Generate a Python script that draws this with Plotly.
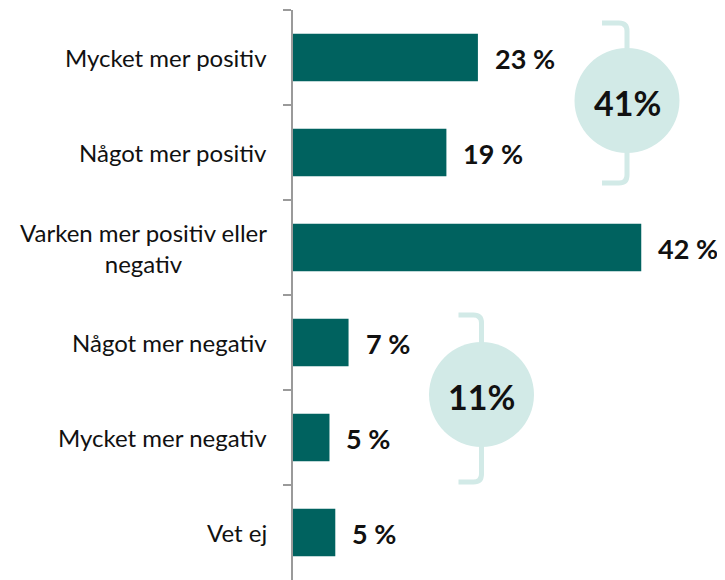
import plotly.graph_objects as go

categories = ["Mycket mer positiv", "Något mer positiv", "Varken mer positiv eller<br>negativ",
              "Något mer negativ", "Mycket mer negativ", "Vet ej"]
values = [22.3, 18.5, 42.0, 6.7, 4.4, 5.1]
value_labels = ["23 %", "19 %", "42 %", "7 %", "5 %", "5 %"]
group_labels = ["41%", "11%"]

W, H = 725, 580
OFF = 8  # page body margin
L, T = 293, 10
PW, PH = W - L, H - T
XMAX = 52.1

BAR = "#00625F"
LIGHT = "#D2EAE7"
FONT = "Lato"

fig = go.Figure(go.Bar(
    x=values, y=list(range(len(categories))), orientation="h",
    marker=dict(color=BAR, line=dict(width=0)), width=0.5,
    hoverinfo="skip"))

anns = []
for i, (c, v, t) in enumerate(zip(categories, values, value_labels)):
    anns.append(dict(x=0, xref="paper", y=i, yref="y", text=c, showarrow=False,
                     xanchor="right", yanchor="middle", xshift=-24, align="center",
                     font=dict(family=FONT, size=24, color="#111")))
    anns.append(dict(x=v, xref="x", y=i, yref="y", text=t, showarrow=False,
                     xanchor="left", yanchor="middle", xshift=15, yshift=-1,
                     font=dict(family=FONT, size=27, color="#111", weight="bold")))

def px(x):
    return (x - L) / PW

def py(y):
    return 1 - (y - T) / PH

shapes = []
def group(cx, cy, r, top, bot, hl):
    rr = 8
    path = (f"M {px(cx-hl)},{py(top)} L {px(cx-rr)},{py(top)} "
            f"Q {px(cx)},{py(top)} {px(cx)},{py(top+rr)} "
            f"L {px(cx)},{py(bot-rr)} "
            f"Q {px(cx)},{py(bot)} {px(cx-rr)},{py(bot)} "
            f"L {px(cx-hl)},{py(bot)}")
    shapes.append(dict(type="path", xref="paper", yref="paper", path=path,
                       line=dict(color=LIGHT, width=5)))
    shapes.append(dict(type="circle", xref="paper", yref="paper",
                       x0=px(cx-r), x1=px(cx+r), y0=py(cy+r), y1=py(cy-r),
                       fillcolor=LIGHT, line=dict(width=0)))

group(627, 100.5, 52.5, 23, 183, 25)
group(481.5, 394.5, 52.5, 315, 482, 23)

for (cx, cy), lab in zip([(627, 102), (481.5, 396)], group_labels):
    anns.append(dict(x=px(cx), y=py(cy), xref="paper", yref="paper", text=lab,
                     xanchor="center", yanchor="middle", showarrow=False,
                     font=dict(family=FONT, size=34, color="#111", weight="bold")))

fig.update_layout(
    width=W - OFF, height=H - OFF, margin=dict(l=L - OFF, r=0, t=T - OFF, b=0),
    plot_bgcolor="white", paper_bgcolor="white", showlegend=False,
    xaxis=dict(range=[0, XMAX], visible=False, fixedrange=True),
    yaxis=dict(range=[5.5, -0.5], showticklabels=False, showgrid=False, zeroline=False,
               showline=True, linecolor="#9A9A9A", linewidth=2,
               tickmode="array", tickvals=[-0.5, 0.5, 1.5, 2.5, 3.5, 4.5],
               ticks="outside", ticklen=8, tickwidth=2, tickcolor="#9A9A9A"),
    annotations=anns, shapes=shapes,
)
fig.write_html("out.html")
